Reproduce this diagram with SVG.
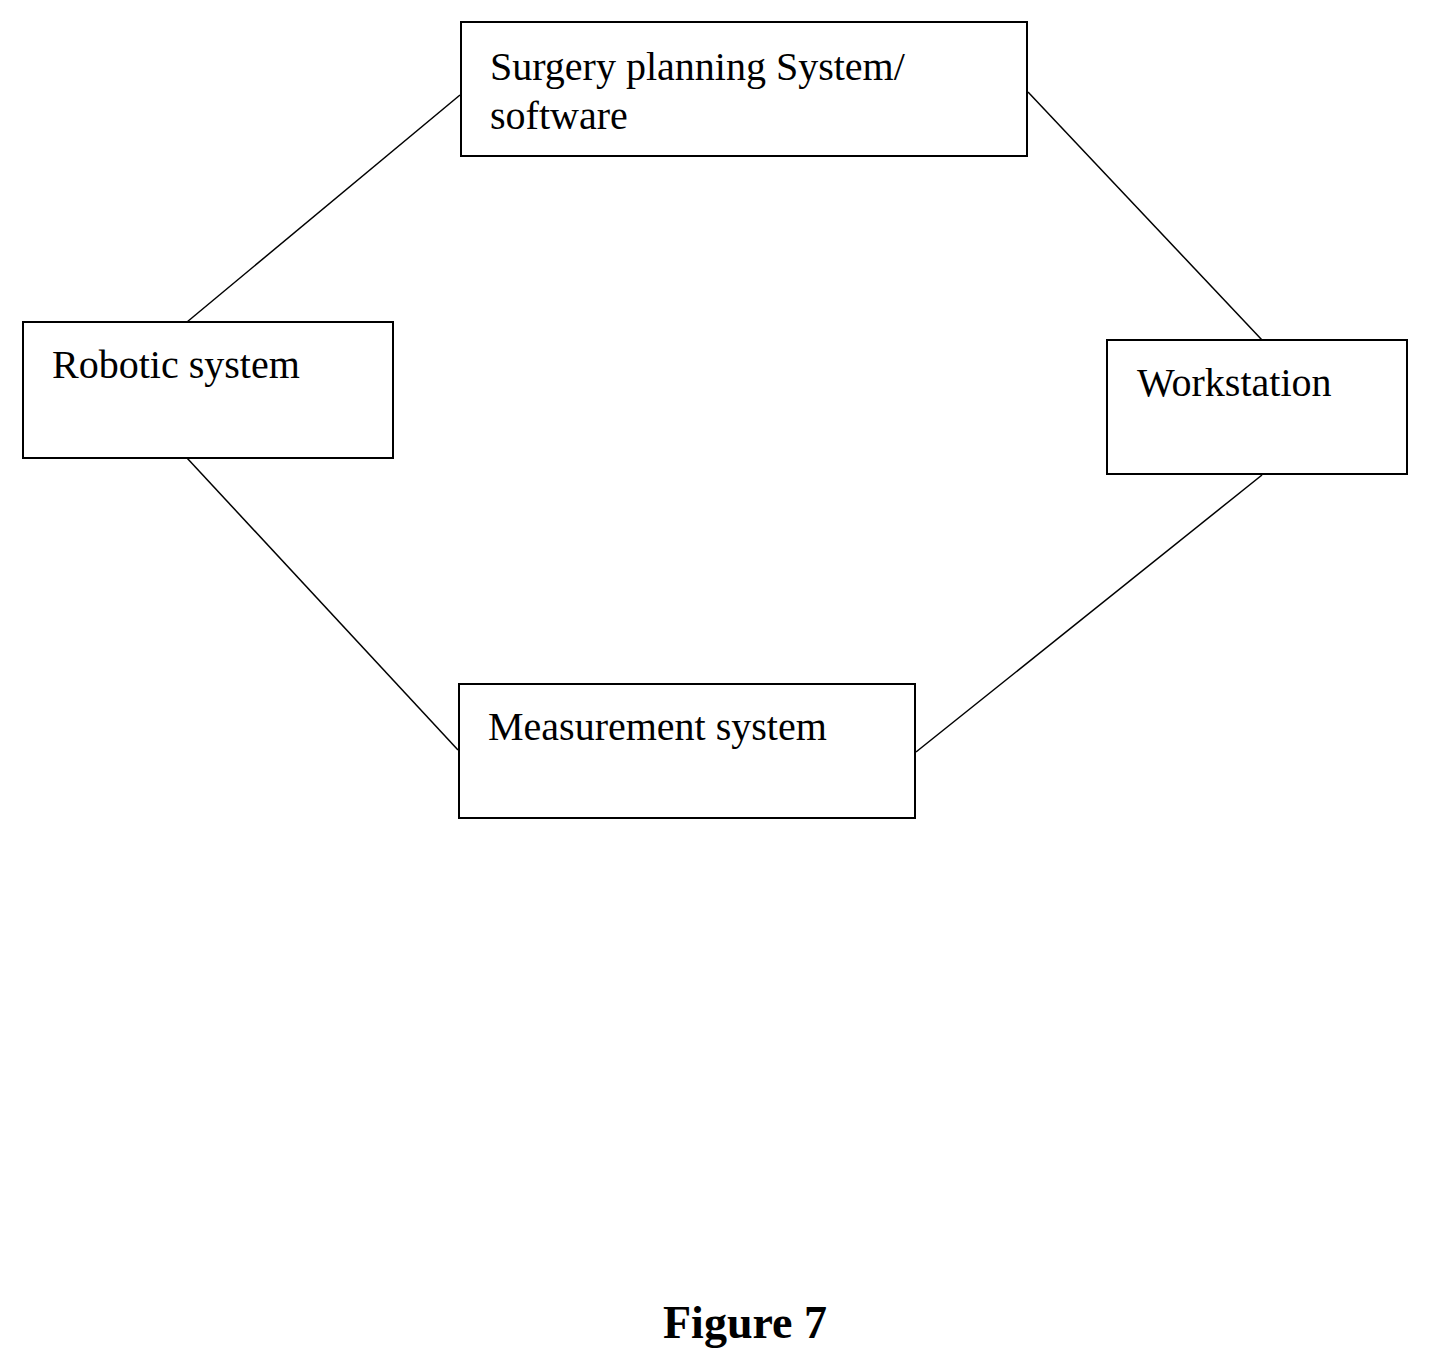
<svg xmlns="http://www.w3.org/2000/svg" width="1430" height="1370" viewBox="0 0 1430 1370">
<style>
.box{fill:#fff;stroke:#000;stroke-width:2}
.t{font-family:"Liberation Serif",serif;font-size:40px;fill:#000}
.c{stroke:#000;stroke-width:1.5;fill:none}
</style>
<rect width="1430" height="1370" fill="#fff"/>
<g id="connectors">
<line class="c" x1="460" y1="95" x2="187" y2="322"/>
<line class="c" x1="1028" y1="92" x2="1262" y2="340"/>
<line class="c" x1="187" y1="458" x2="458" y2="750"/>
<line class="c" x1="1262" y1="475" x2="916" y2="752"/>
</g>
<g id="surgery"><rect class="box" x="461" y="22" width="566" height="134"/><text class="t" x="490" y="80">Surgery planning System/</text><text class="t" x="490" y="129">software</text></g>
<g id="robotic"><rect class="box" x="23" y="322" width="370" height="136"/><text class="t" x="52" y="378">Robotic system</text></g>
<g id="workstation"><rect class="box" x="1107" y="340" width="300" height="134"/><text class="t" x="1137" y="396">Workstation</text></g>
<g id="measurement"><rect class="box" x="459" y="684" width="456" height="134"/><text class="t" x="488" y="740">Measurement system</text></g>
<text x="745" y="1338" text-anchor="middle" font-family="Liberation Serif,serif" font-weight="bold" font-size="46">Figure 7</text>
</svg>
